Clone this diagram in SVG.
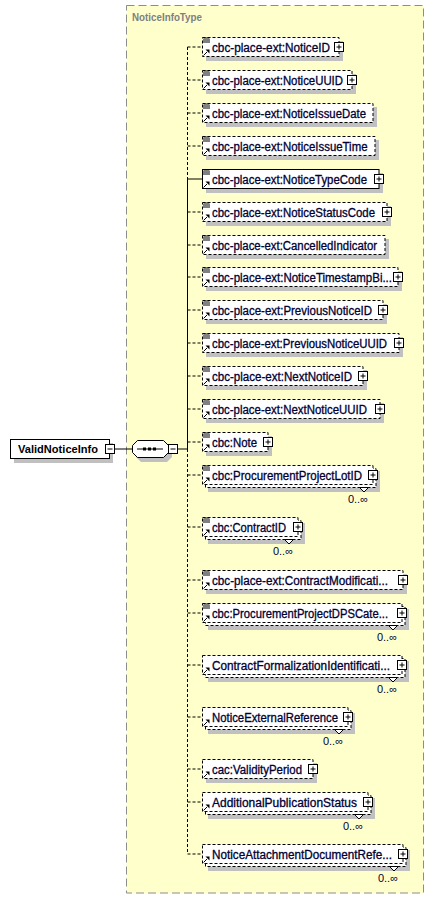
<svg xmlns="http://www.w3.org/2000/svg" width="436" height="900" viewBox="0 0 436 900">
<defs>
<style>
.type{fill:#ffffcc;stroke:#8c8c8c;stroke-width:1;stroke-dasharray:8,4}
.title{font-family:"Liberation Sans",Arial,sans-serif;font-size:11px;font-weight:bold;fill:#808080}
.sh{fill:#c0c0c0;stroke:none}
.bx{fill:#ffffff;stroke:#000000;stroke-width:1;stroke-dasharray:3,2}
.bs{fill:#ffffff;stroke:#000000;stroke-width:1}
.t{font-family:"Liberation Sans",Arial,sans-serif;font-size:12px;fill:#000033;stroke:#000033;stroke-width:0.3}
.tb{font-family:"Liberation Sans",Arial,sans-serif;font-size:11.5px;font-weight:bold;fill:#000000}
.occ{font-family:"Liberation Sans",Arial,sans-serif;font-size:11px;fill:#000033;text-anchor:end}
.ln{fill:none;stroke:#000000;stroke-width:1}
.dl{fill:none;stroke:#000000;stroke-width:1;stroke-dasharray:3,2}
.ic{fill:none;stroke:#000000;stroke-width:1}
.tri{fill:#ffffff;stroke:#000000;stroke-width:1}
</style>
<g id="doc"><path class="ic" d="M1.5 1H7.5M1 3H8M1 5H8"/></g>
<g id="arr"><path class="ic" d="M1.5 -1.5L5 -5"/><polygon points="3.5,-7.5 7.5,-7.5 7.5,-3.5" fill="#000000"/></g>
<g id="plus"><rect x="0" y="0" width="9" height="9" fill="#ffffff" stroke="#000000"/><path class="ic" d="M2 4.5H7M4.5 2V7"/></g>
<g id="minus"><rect x="0" y="0" width="9" height="9" fill="#ffffff" stroke="#000000"/><path class="ic" d="M2 4.5H7"/></g>
</defs>

<rect class="type" x="126.5" y="5.5" width="297" height="887.5"/>
<text class="title" x="132" y="21" textLength="70" lengthAdjust="spacingAndGlyphs">NoticeInfoType</text>

<g id="connectors">
<path class="ln" d="M114.5 449H132M178 449H187.5"/>
<path class="dl" d="M187.5 47V179"/>
<path class="ln" d="M187.5 179V449"/>
<path class="dl" d="M187.5 449V854"/>
<path class="dl" d="M187.5 47H202M187.5 80H202M187.5 113H202M187.5 146H202M187.5 212H202M187.5 245H202M187.5 277H202M187.5 310H202M187.5 343H202M187.5 376H202M187.5 409H202M187.5 442H202M187.5 475H202M187.5 527H202M187.5 580H202M187.5 613H202M187.5 665H202M187.5 717H202M187.5 769H202M187.5 802H202M187.5 854H202"/>
<path class="ln" d="M187.5 179H202"/>
</g>

<g id="ValidNoticeInfo">
<rect class="sh" x="14" y="443" width="99" height="20"/>
<rect class="bs" x="10.5" y="439.5" width="99" height="19"/>
<text class="tb" x="18" y="453" textLength="80" lengthAdjust="spacingAndGlyphs">ValidNoticeInfo</text>
<use href="#minus" x="105.5" y="444.5"/>
</g>

<g id="sequence">
<polygon class="sh" points="141,444 167,444 172,449 172,457 167,462 141,462 136,457 136,449"/>
<polygon class="bs" points="137.5,440.5 163.5,440.5 168.5,445.5 168.5,452.5 163.5,457.5 137.5,457.5 132.5,452.5 132.5,445.5"/>
<path class="ln" d="M137 449H163"/>
<rect x="143" y="447.5" width="3" height="3" fill="#000000"/>
<rect x="148" y="447.5" width="3" height="3" fill="#000000"/>
<rect x="153" y="447.5" width="3" height="3" fill="#000000"/>
<use href="#minus" x="168.5" y="444.5"/>
</g>

<g id="NoticeID">
<rect class="sh" x="206" y="41" width="137" height="20"/>
<rect class="bx" x="202.5" y="37.5" width="136.5" height="19"/>
<use href="#doc" x="202" y="37"/><use href="#arr" x="202" y="57"/>
<text class="t" x="212" y="51.5" textLength="118" lengthAdjust="spacingAndGlyphs">cbc-place-ext:NoticeID</text>
<use href="#plus" x="334.5" y="42.5"/>
</g>

<g id="NoticeUUID">
<rect class="sh" x="206" y="74" width="150" height="20"/>
<rect class="bx" x="202.5" y="70.5" width="149.5" height="19"/>
<use href="#doc" x="202" y="70"/><use href="#arr" x="202" y="90"/>
<text class="t" x="212" y="84.5" textLength="131" lengthAdjust="spacingAndGlyphs">cbc-place-ext:NoticeUUID</text>
<use href="#plus" x="347.5" y="75.5"/>
</g>

<g id="NoticeIssueDate">
<rect class="sh" x="206" y="107" width="171" height="20"/>
<rect class="bx" x="202.5" y="103.5" width="170.5" height="19"/>
<use href="#doc" x="202" y="103"/><use href="#arr" x="202" y="123"/>
<text class="t" x="212" y="117.5" textLength="154" lengthAdjust="spacingAndGlyphs">cbc-place-ext:NoticeIssueDate</text>
</g>

<g id="NoticeIssueTime">
<rect class="sh" x="206" y="140" width="173" height="20"/>
<rect class="bx" x="202.5" y="136.5" width="172.5" height="19"/>
<use href="#doc" x="202" y="136"/><use href="#arr" x="202" y="156"/>
<text class="t" x="212" y="150.5" textLength="155.5" lengthAdjust="spacingAndGlyphs">cbc-place-ext:NoticeIssueTime</text>
</g>

<g id="NoticeTypeCode">
<rect class="sh" x="206" y="173" width="177" height="20"/>
<rect class="bs" x="202.5" y="169.5" width="176.5" height="19"/>
<use href="#doc" x="202" y="169"/><use href="#arr" x="202" y="189"/>
<text class="t" x="212" y="183.5" textLength="155" lengthAdjust="spacingAndGlyphs">cbc-place-ext:NoticeTypeCode</text>
<use href="#plus" x="374.5" y="174.5"/>
</g>

<g id="NoticeStatusCode">
<rect class="sh" x="206" y="206" width="185" height="20"/>
<rect class="bx" x="202.5" y="202.5" width="184.5" height="19"/>
<use href="#doc" x="202" y="202"/><use href="#arr" x="202" y="222"/>
<text class="t" x="212" y="216.5" textLength="163" lengthAdjust="spacingAndGlyphs">cbc-place-ext:NoticeStatusCode</text>
<use href="#plus" x="382.5" y="207.5"/>
</g>

<g id="CancelledIndicator">
<rect class="sh" x="206" y="239" width="183" height="20"/>
<rect class="bx" x="202.5" y="235.5" width="182.5" height="19"/>
<use href="#doc" x="202" y="235"/><use href="#arr" x="202" y="255"/>
<text class="t" x="212" y="249.5" textLength="165" lengthAdjust="spacingAndGlyphs">cbc-place-ext:CancelledIndicator</text>
</g>

<g id="NoticeTimestampBi">
<rect class="sh" x="206" y="271" width="196" height="20"/>
<rect class="bx" x="202.5" y="267.5" width="195.5" height="19"/>
<use href="#doc" x="202" y="267"/><use href="#arr" x="202" y="287"/>
<text class="t" x="212" y="281.5" textLength="180" lengthAdjust="spacingAndGlyphs">cbc-place-ext:NoticeTimestampBi...</text>
<use href="#plus" x="393.5" y="272.5"/>
</g>

<g id="PreviousNoticeID">
<rect class="sh" x="206" y="304" width="181" height="20"/>
<rect class="bx" x="202.5" y="300.5" width="180.5" height="19"/>
<use href="#doc" x="202" y="300"/><use href="#arr" x="202" y="320"/>
<text class="t" x="212" y="314.5" textLength="160" lengthAdjust="spacingAndGlyphs">cbc-place-ext:PreviousNoticeID</text>
<use href="#plus" x="378.5" y="305.5"/>
</g>

<g id="PreviousNoticeUUID">
<rect class="sh" x="206" y="337" width="197" height="20"/>
<rect class="bx" x="202.5" y="333.5" width="196.5" height="19"/>
<use href="#doc" x="202" y="333"/><use href="#arr" x="202" y="353"/>
<text class="t" x="212" y="347.5" textLength="175" lengthAdjust="spacingAndGlyphs">cbc-place-ext:PreviousNoticeUUID</text>
<use href="#plus" x="394.5" y="338.5"/>
</g>

<g id="NextNoticeID">
<rect class="sh" x="206" y="370" width="161" height="20"/>
<rect class="bx" x="202.5" y="366.5" width="160.5" height="19"/>
<use href="#doc" x="202" y="366"/><use href="#arr" x="202" y="386"/>
<text class="t" x="212" y="380.5" textLength="140" lengthAdjust="spacingAndGlyphs">cbc-place-ext:NextNoticeID</text>
<use href="#plus" x="358.5" y="371.5"/>
</g>

<g id="NextNoticeUUID">
<rect class="sh" x="206" y="403" width="178" height="20"/>
<rect class="bx" x="202.5" y="399.5" width="177.5" height="19"/>
<use href="#doc" x="202" y="399"/><use href="#arr" x="202" y="419"/>
<text class="t" x="212" y="413.5" textLength="155" lengthAdjust="spacingAndGlyphs">cbc-place-ext:NextNoticeUUID</text>
<use href="#plus" x="375.5" y="404.5"/>
</g>

<g id="Note">
<rect class="sh" x="206" y="436" width="66" height="20"/>
<rect class="bx" x="202.5" y="432.5" width="65.5" height="19"/>
<use href="#doc" x="202" y="432"/><use href="#arr" x="202" y="452"/>
<text class="t" x="212" y="446.5" textLength="45" lengthAdjust="spacingAndGlyphs">cbc:Note</text>
<use href="#plus" x="263.5" y="437.5"/>
</g>

<g id="ProcurementProjectLotID">
<rect class="sh" x="208" y="471" width="172" height="21"/>
<rect class="bx" x="205.5" y="468.5" width="170.5" height="19"/>
<rect class="bx" x="202.5" y="465.5" width="170.5" height="19"/>
<use href="#doc" x="202" y="465"/><use href="#arr" x="202" y="485"/>
<text class="t" x="212" y="479.5" textLength="150" lengthAdjust="spacingAndGlyphs">cbc:ProcurementProjectLotID</text>
<use href="#plus" x="368.5" y="470.5"/>
<polygon class="tri" points="359.5,487.5 368.5,487.5 364,492"/>
<text class="occ" x="368" y="503">0..∞</text>
</g>

<g id="ContractID">
<rect class="sh" x="208" y="523" width="97" height="21"/>
<rect class="bx" x="205.5" y="520.5" width="95.5" height="19"/>
<rect class="bx" x="202.5" y="517.5" width="95.5" height="19"/>
<use href="#doc" x="202" y="517"/><use href="#arr" x="202" y="537"/>
<text class="t" x="212" y="531.5" textLength="74" lengthAdjust="spacingAndGlyphs">cbc:ContractID</text>
<use href="#plus" x="293.5" y="522.5"/>
<polygon class="tri" points="284.5,539.5 293.5,539.5 289,544"/>
<text class="occ" x="293" y="555">0..∞</text>
</g>

<g id="ContractModification">
<rect class="sh" x="206" y="574" width="201" height="20"/>
<rect class="bx" x="202.5" y="570.5" width="200.5" height="19"/>
<use href="#doc" x="202" y="570"/><use href="#arr" x="202" y="590"/>
<text class="t" x="212" y="584.5" textLength="176" lengthAdjust="spacingAndGlyphs">cbc-place-ext:ContractModificati...</text>
<use href="#plus" x="398.5" y="575.5"/>
</g>

<g id="ProcurementProjectDPSCategory">
<rect class="sh" x="208" y="609" width="201" height="21"/>
<rect class="bx" x="205.5" y="606.5" width="199.5" height="19"/>
<rect class="bx" x="202.5" y="603.5" width="199.5" height="19"/>
<use href="#doc" x="202" y="603"/><use href="#arr" x="202" y="623"/>
<text class="t" x="212" y="617.5" textLength="176" lengthAdjust="spacingAndGlyphs">cbc:ProcurementProjectDPSCate...</text>
<use href="#plus" x="397.5" y="608.5"/>
<polygon class="tri" points="388.5,625.5 397.5,625.5 393,630"/>
<text class="occ" x="397" y="641">0..∞</text>
</g>

<g id="ContractFormalizationIdentification">
<rect class="sh" x="208" y="661" width="201" height="21"/>
<rect class="bx" x="205.5" y="658.5" width="199.5" height="19"/>
<rect class="bx" x="202.5" y="655.5" width="199.5" height="19"/>
<use href="#arr" x="202" y="675"/>
<text class="t" x="212" y="669.5" textLength="178" lengthAdjust="spacingAndGlyphs">ContractFormalizationIdentificati...</text>
<use href="#plus" x="397.5" y="660.5"/>
<polygon class="tri" points="388.5,677.5 397.5,677.5 393,682"/>
<text class="occ" x="397" y="693">0..∞</text>
</g>

<g id="NoticeExternalReference">
<rect class="sh" x="208" y="713" width="147" height="21"/>
<rect class="bx" x="205.5" y="710.5" width="145.5" height="19"/>
<rect class="bx" x="202.5" y="707.5" width="145.5" height="19"/>
<use href="#arr" x="202" y="727"/>
<text class="t" x="212" y="721.5" textLength="126" lengthAdjust="spacingAndGlyphs">NoticeExternalReference</text>
<use href="#plus" x="343.5" y="712.5"/>
<polygon class="tri" points="334.5,729.5 343.5,729.5 339,734"/>
<text class="occ" x="343" y="745">0..∞</text>
</g>

<g id="ValidityPeriod">
<rect class="sh" x="206" y="763" width="111" height="20"/>
<rect class="bx" x="202.5" y="759.5" width="110.5" height="19"/>
<use href="#arr" x="202" y="779"/>
<text class="t" x="212" y="773.5" textLength="90" lengthAdjust="spacingAndGlyphs">cac:ValidityPeriod</text>
<use href="#plus" x="308.5" y="764.5"/>
</g>

<g id="AdditionalPublicationStatus">
<rect class="sh" x="208" y="798" width="167" height="21"/>
<rect class="bx" x="205.5" y="795.5" width="165.5" height="19"/>
<rect class="bx" x="202.5" y="792.5" width="165.5" height="19"/>
<use href="#arr" x="202" y="812"/>
<text class="t" x="212" y="806.5" textLength="145" lengthAdjust="spacingAndGlyphs">AdditionalPublicationStatus</text>
<use href="#plus" x="363.5" y="797.5"/>
<polygon class="tri" points="354.5,814.5 363.5,814.5 359,819"/>
<text class="occ" x="363" y="830">0..∞</text>
</g>

<g id="NoticeAttachmentDocumentReference">
<rect class="sh" x="208" y="850" width="202" height="21"/>
<rect class="bx" x="205.5" y="847.5" width="200.5" height="19"/>
<rect class="bx" x="202.5" y="844.5" width="200.5" height="19"/>
<use href="#arr" x="202" y="864"/>
<text class="t" x="212" y="858.5" textLength="180" lengthAdjust="spacingAndGlyphs">NoticeAttachmentDocumentRefe...</text>
<use href="#plus" x="398.5" y="849.5"/>
<polygon class="tri" points="389.5,866.5 398.5,866.5 394,871"/>
<text class="occ" x="398" y="882">0..∞</text>
</g>
</svg>
